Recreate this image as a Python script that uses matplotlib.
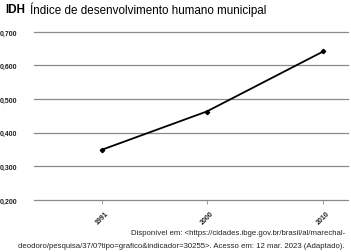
import matplotlib.pyplot as plt

years = [1991, 2000, 2010]
idh = [0.349, 0.463, 0.642]
y_ticks = [0.2, 0.3, 0.4, 0.5, 0.6, 0.7]
y_labels = ["0,200", "0,300", "0,400", "0,500", "0,600", "0,700"]

plt.rcParams["font.family"] = ["Liberation Sans", "DejaVu Sans"]

fig = plt.figure(figsize=(3.51, 2.53), dpi=100)
ax = fig.add_axes([0.097, 0.206, 0.894, 0.664])

for v in y_ticks:
    ax.axhline(v, color="#8a8a8a", lw=0.9, zorder=1, clip_on=False)

ax.plot(years, idh, color="black", lw=1.3, marker="D", markersize=2.2, zorder=3)

ax.set_xlim(1985.2, 2012.1)
ax.set_ylim(0.2, 0.7)
ax.set_yticks(y_ticks)
ax.set_yticklabels(y_labels, fontsize=5, fontweight="bold", color="#222222")
ax.tick_params(axis="y", length=0, pad=12)
ax.set_xticks(years)
ax.set_xticklabels([str(y) for y in years], rotation=45, ha="center", va="top",
                   fontsize=5, fontweight="bold", color="#222222")
ax.tick_params(axis="x", length=3, width=0.6, color="#8a8a8a", pad=4)

for s in ax.spines.values():
    s.set_visible(False)

fig.text(0.014, 0.962, "IDH", fontsize=8.4, fontweight="bold", va="center", ha="left")
fig.text(0.085, 0.962, "Índice de desenvolvimento humano municipal", fontsize=8.4,
         va="center", ha="left")

fig.text(0.983, 0.079, "Disponível em: <https://cidades.ibge.gov.br/brasil/al/marechal-",
         fontsize=5.6, ha="right", va="center", color="#222222")
fig.text(0.983, 0.027,
         "deodoro/pesquisa/37/0?tipo=grafico&indicador=30255>. Acesso em: 12 mar. 2023 (Adaptado).",
         fontsize=5.6, ha="right", va="center", color="#222222")

fig.savefig("out.png", dpi=100)
